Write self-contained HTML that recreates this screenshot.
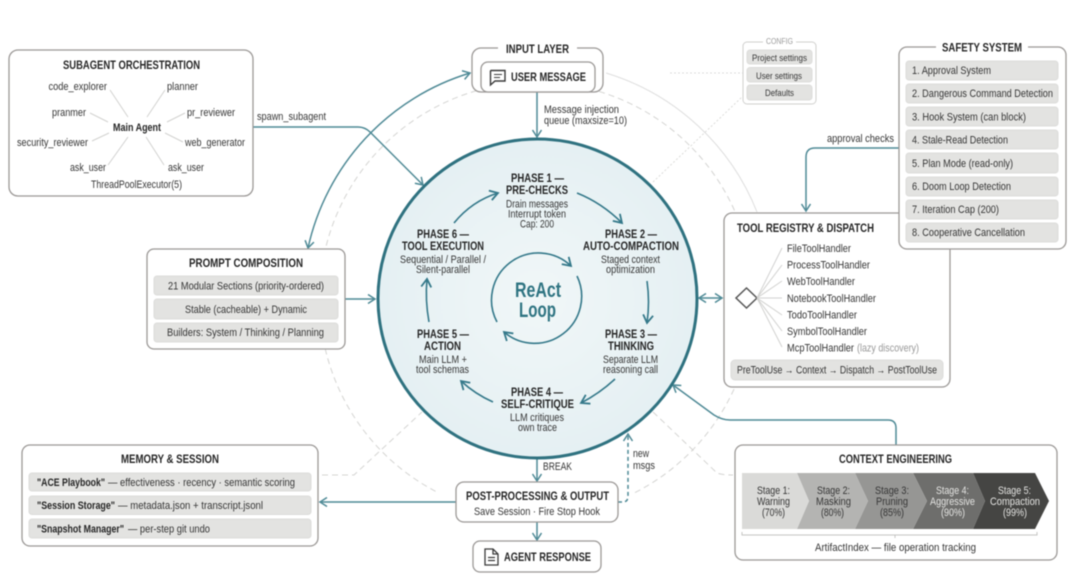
<!DOCTYPE html>
<html><head><meta charset="utf-8"><style>
html,body{margin:0;padding:0;background:#fff}
svg{display:block;filter:blur(.45px)}
text{font-family:"Liberation Sans",Arial,sans-serif;font-size:10.8px;fill:#363636}
.t{font-weight:700;font-size:11.8px;fill:#262626}
.b{font-weight:700;font-size:10.8px;fill:#262626}
.box{fill:#fff;stroke:#9b9896;stroke-width:1.3}
.pill{fill:#e3e3e1;stroke:#dcdcda;stroke-width:1}
.gd{fill:none;stroke:#d4d4d2;stroke-width:1;stroke-dasharray:6 4}
.c{fill:none;stroke:#4f8a96;stroke-width:1.5}
.p{fill:none;stroke:#35798a;stroke-width:1.6}
.l{stroke:#d2d2d0;stroke-width:1;fill:none}
</style></head><body>
<svg width="1080" height="586" viewBox="0 0 1080 586" xmlns="http://www.w3.org/2000/svg">
<defs>
<marker id="a" markerUnits="userSpaceOnUse" markerWidth="14" markerHeight="14" viewBox="-11 -7 14 14" refX="0" refY="0" orient="auto-start-reverse"><path d="M-7,-4.5L0,0L-7,4.5" fill="none" stroke="#4f8a96" stroke-width="1.5"/></marker>
<marker id="d" markerUnits="userSpaceOnUse" markerWidth="14" markerHeight="14" viewBox="-11 -7 14 14" refX="0" refY="0" orient="auto"><path d="M-8,-5L0,0L-8,5" fill="none" stroke="#35798a" stroke-width="1.8"/></marker>
<radialGradient id="g" cx="50%" cy="50%" r="50%"><stop offset="0" stop-color="#f1f7f8"/><stop offset="1" stop-color="#e5f0f3"/></radialGradient>
</defs>

<!-- faint rings -->
<path class="gd" d="M635 492.6A217 217 0 1 0 438 492.6"/>
<path d="M606 73A236 236 0 0 1 757 212" fill="none" stroke="#dedede" stroke-width="1"/>
<path class="gd" d="M653 412L717 473Q722 475 733 475"/>
<path class="gd" d="M322 475L354 475L422 412"/>
<path d="M653 182L742 97" fill="none" stroke="#dcdcda" stroke-width="1" stroke-dasharray="2 2"/>
<path d="M670 73L745 73" fill="none" stroke="#dcdcda" stroke-width="1" stroke-dasharray="2 2"/>

<!-- connectors -->
<path class="c" marker-start="url(#a)" marker-end="url(#a)" d="M308 248A236 236 0 0 1 470 73"/>
<path class="c" marker-end="url(#a)" d="M253 127L358 127Q365 127 370 132L423 185"/>
<path class="c" marker-end="url(#a)" d="M537 92L537 137"/>
<path class="c" marker-end="url(#a)" d="M345 299L375 299"/>
<path class="c" marker-start="url(#a)" marker-end="url(#a)" d="M699 298L722 298"/>
<path class="c" marker-end="url(#a)" d="M899 148L815 148Q806 148 806 157L806 211"/>
<path class="c" marker-end="url(#a)" d="M896 445L896 428Q896 420 888 420L730 420Q722 420 714 415L673 385"/>
<path class="c" marker-end="url(#a)" d="M537 458L537 481"/>
<path class="c" marker-end="url(#a)" d="M537 522L537 540"/>
<path class="c" marker-end="url(#a)" d="M456 502L320 502"/>
<path class="c" stroke-dasharray="4 3" marker-end="url(#a)" d="M618 502L623 502Q628 502 628 496L628 434"/>

<!-- main circle -->
<circle cx="537.5" cy="298.5" r="159.5" fill="url(#g)" stroke="#2f7280" stroke-width="3"/>
<path class="p" marker-end="url(#d)" d="M497 322A47 47 0 0 1 571 266"/>
<path class="p" marker-end="url(#d)" d="M577 276A47 47 0 0 1 504 332"/>
<path class="p" marker-end="url(#d)" d="M454 223Q472 201 498 193"/>
<path class="p" marker-end="url(#d)" d="M577 193Q602 203 622 223"/>
<path class="p" marker-end="url(#d)" d="M647 281Q650 302 647 323"/>
<path class="p" marker-end="url(#d)" d="M615 379Q600 393 581 403"/>
<path class="p" marker-end="url(#d)" d="M493 402Q475 394 461 381"/>
<path class="p" marker-end="url(#d)" d="M429 322Q425 300 427 279"/>

<text x="515" y="297" textLength="46" lengthAdjust="spacingAndGlyphs" style="font-size:21px;font-weight:700;fill:#2f7482">ReAct</text>
<text x="519" y="317" textLength="37" lengthAdjust="spacingAndGlyphs" style="font-size:21px;font-weight:700;fill:#2f7482">Loop</text>

<text class="t" x="511" y="182" textLength="53" lengthAdjust="spacingAndGlyphs">PHASE 1 —</text>
<text class="t" x="506" y="194" textLength="62" lengthAdjust="spacingAndGlyphs">PRE-CHECKS</text>
<text x="506" y="207.500" textLength="62" lengthAdjust="spacingAndGlyphs">Drain messages</text>
<text x="508" y="217.500" textLength="58" lengthAdjust="spacingAndGlyphs">Interrupt token</text>
<text x="520" y="227.500" textLength="34" lengthAdjust="spacingAndGlyphs">Cap: 200</text>

<text class="t" x="605" y="238" textLength="52" lengthAdjust="spacingAndGlyphs">PHASE 2 —</text>
<text class="t" x="583" y="250" textLength="96" lengthAdjust="spacingAndGlyphs">AUTO-COMPACTION</text>
<text x="601" y="263" textLength="59" lengthAdjust="spacingAndGlyphs">Staged context</text>
<text x="606" y="273" textLength="49" lengthAdjust="spacingAndGlyphs">optimization</text>

<text class="t" x="605" y="338" textLength="52" lengthAdjust="spacingAndGlyphs">PHASE 3 —</text>
<text class="t" x="608" y="350" textLength="46" lengthAdjust="spacingAndGlyphs">THINKING</text>
<text x="603" y="363" textLength="55" lengthAdjust="spacingAndGlyphs">Separate LLM</text>
<text x="603" y="373" textLength="55" lengthAdjust="spacingAndGlyphs">reasoning call</text>

<text class="t" x="511" y="396" textLength="52" lengthAdjust="spacingAndGlyphs">PHASE 4 —</text>
<text class="t" x="501" y="408" textLength="73" lengthAdjust="spacingAndGlyphs">SELF-CRITIQUE</text>
<text x="510" y="421" textLength="54" lengthAdjust="spacingAndGlyphs">LLM critiques</text>
<text x="518" y="431" textLength="39" lengthAdjust="spacingAndGlyphs">own trace</text>

<text class="t" x="417" y="338" textLength="52" lengthAdjust="spacingAndGlyphs">PHASE 5 —</text>
<text class="t" x="424" y="350" textLength="37" lengthAdjust="spacingAndGlyphs">ACTION</text>
<text x="419" y="363" textLength="48" lengthAdjust="spacingAndGlyphs">Main LLM +</text>
<text x="416" y="373" textLength="53" lengthAdjust="spacingAndGlyphs">tool schemas</text>

<text class="t" x="417" y="238" textLength="52" lengthAdjust="spacingAndGlyphs">PHASE 6 —</text>
<text class="t" x="402" y="250" textLength="82" lengthAdjust="spacingAndGlyphs">TOOL EXECUTION</text>
<text x="400" y="263" textLength="86" lengthAdjust="spacingAndGlyphs">Sequential / Parallel /</text>
<text x="416" y="273" textLength="54" lengthAdjust="spacingAndGlyphs">Silent-parallel</text>

<!-- Subagent -->
<rect class="box" x="9" y="50" width="244" height="146" rx="9"/>
<text class="t" x="63" y="69" textLength="137" lengthAdjust="spacingAndGlyphs">SUBAGENT ORCHESTRATION</text>
<g class="l"><path d="M110 90L128 117M165 90L147 117M90 113L108 122M185 113L167 122M92 141L109 133M165 133L183 142M108 165L128 137M146 137L164 165"/></g>
<text x="48.500" y="90" textLength="58.500" lengthAdjust="spacingAndGlyphs">code_explorer</text>
<text x="167" y="90" textLength="31" lengthAdjust="spacingAndGlyphs">planner</text>
<text x="52" y="116" textLength="34" lengthAdjust="spacingAndGlyphs">pranmer</text>
<text x="187" y="116" textLength="48" lengthAdjust="spacingAndGlyphs">pr_reviewer</text>
<text class="b" x="113" y="131" textLength="48" lengthAdjust="spacingAndGlyphs">Main Agent</text>
<text x="17" y="146" textLength="71" lengthAdjust="spacingAndGlyphs">security_reviewer</text>
<text x="185" y="146" textLength="60" lengthAdjust="spacingAndGlyphs">web_generator</text>
<text x="70" y="171" textLength="36" lengthAdjust="spacingAndGlyphs">ask_user</text>
<text x="168" y="171" textLength="36" lengthAdjust="spacingAndGlyphs">ask_user</text>
<text x="91" y="188" textLength="91" lengthAdjust="spacingAndGlyphs">ThreadPoolExecutor(5)</text>
<text x="257" y="120" textLength="69" lengthAdjust="spacingAndGlyphs">spawn_subagent</text>

<!-- Input layer -->
<rect class="box" x="472" y="48" width="131" height="44" rx="9"/>
<rect x="498" y="44" width="79" height="8" fill="#fff"/>
<text class="t" x="506" y="53" textLength="63" lengthAdjust="spacingAndGlyphs">INPUT LAYER</text>
<rect class="box" x="481" y="62" width="114" height="30" rx="7"/>
<path d="M491 70.500H505V81H495L490.500 85V71Z" fill="none" stroke="#3a3a3a" stroke-width="1.400"/>
<path d="M494 74.500H502M494 77.500H500" stroke="#3a3a3a" stroke-width="1"/>
<text class="t" x="511" y="81" textLength="75" lengthAdjust="spacingAndGlyphs">USER MESSAGE</text>
<text x="544" y="113" textLength="75" lengthAdjust="spacingAndGlyphs">Message injection</text>
<text x="544" y="124" textLength="83" lengthAdjust="spacingAndGlyphs">queue (maxsize=10)</text>

<!-- Config -->
<rect x="743" y="42" width="73" height="62" rx="4" fill="#fff" stroke="#d0d0ce" stroke-width="1"/>
<rect x="763" y="38" width="33" height="8" fill="#fff"/>
<text x="766" y="44" textLength="27" lengthAdjust="spacingAndGlyphs" style="font-size:8px;fill:#999">CONFIG</text>
<rect class="pill" x="747" y="50" width="65" height="14" rx="3"/>
<rect class="pill" x="747" y="67.500" width="65" height="14.500" rx="3"/>
<rect class="pill" x="747" y="85" width="65" height="15" rx="3"/>
<text x="752" y="61" textLength="55" lengthAdjust="spacingAndGlyphs" style="font-size:9.5px">Project settings</text>
<text x="756" y="79" textLength="46" lengthAdjust="spacingAndGlyphs" style="font-size:9.5px">User settings</text>
<text x="765" y="96" textLength="29" lengthAdjust="spacingAndGlyphs" style="font-size:9.5px">Defaults</text>

<!-- Tool registry -->
<rect class="box" x="724" y="213" width="226" height="174" rx="8"/>
<text class="t" x="737" y="232" textLength="137" lengthAdjust="spacingAndGlyphs">TOOL REGISTRY &amp; DISPATCH</text>
<path d="M746.500 288L757 298L746.500 308L736 298Z" fill="#fff" stroke="#555" stroke-width="1.500"/>
<g class="l"><path d="M757 298L782 248M757 298L782 265M757 298L782 281M757 298L782 298M757 298L782 315M757 298L782 331M757 298L782 347"/></g>
<text x="787" y="252" textLength="64" lengthAdjust="spacingAndGlyphs">FileToolHandler</text>
<text x="787" y="268.500" textLength="83" lengthAdjust="spacingAndGlyphs">ProcessToolHandler</text>
<text x="787" y="285" textLength="68" lengthAdjust="spacingAndGlyphs">WebToolHandler</text>
<text x="787" y="302" textLength="89" lengthAdjust="spacingAndGlyphs">NotebookToolHandler</text>
<text x="787" y="318.500" textLength="70" lengthAdjust="spacingAndGlyphs">TodoToolHandler</text>
<text x="787" y="335" textLength="80" lengthAdjust="spacingAndGlyphs">SymbolToolHandler</text>
<text x="787" y="351.500" textLength="67" lengthAdjust="spacingAndGlyphs">McpToolHandler</text>
<text x="857" y="351.500" textLength="62" lengthAdjust="spacingAndGlyphs" style="fill:#999">(lazy discovery)</text>
<rect class="pill" x="731" y="360" width="212" height="20" rx="4"/>
<text x="737" y="373.500" textLength="200" lengthAdjust="spacingAndGlyphs">PreToolUse → Context → Dispatch → PostToolUse</text>

<!-- Safety -->
<rect class="box" x="899" y="47" width="167" height="202" rx="8"/>
<rect x="936" y="42" width="92" height="10" fill="#fff"/>
<text class="t" x="942" y="51.500" textLength="80" lengthAdjust="spacingAndGlyphs">SAFETY SYSTEM</text>
<rect class="pill" x="906" y="61" width="152" height="19" rx="3"/>
<rect class="pill" x="906" y="84" width="152" height="19" rx="3"/>
<rect class="pill" x="906" y="107" width="152" height="19" rx="3"/>
<rect class="pill" x="906" y="130" width="152" height="19" rx="3"/>
<rect class="pill" x="906" y="153" width="152" height="20" rx="3"/>
<rect class="pill" x="906" y="177" width="152" height="19" rx="3"/>
<rect class="pill" x="906" y="200" width="152" height="19" rx="3"/>
<rect class="pill" x="906" y="223" width="152" height="19" rx="3"/>
<text x="912" y="74" textLength="79" lengthAdjust="spacingAndGlyphs">1. Approval System</text>
<text x="912" y="97" textLength="141" lengthAdjust="spacingAndGlyphs">2. Dangerous Command Detection</text>
<text x="912" y="120.500" textLength="114" lengthAdjust="spacingAndGlyphs">3. Hook System (can block)</text>
<text x="912" y="143.500" textLength="96" lengthAdjust="spacingAndGlyphs">4. Stale-Read Detection</text>
<text x="912" y="167" textLength="101" lengthAdjust="spacingAndGlyphs">5. Plan Mode (read-only)</text>
<text x="912" y="190" textLength="99" lengthAdjust="spacingAndGlyphs">6. Doom Loop Detection</text>
<text x="912" y="213" textLength="87" lengthAdjust="spacingAndGlyphs">7. Iteration Cap (200)</text>
<text x="912" y="236" textLength="113" lengthAdjust="spacingAndGlyphs">8. Cooperative Cancellation</text>
<text x="827" y="142" textLength="67" lengthAdjust="spacingAndGlyphs">approval checks</text>

<!-- Prompt -->
<rect class="box" x="147" y="249" width="198" height="100" rx="7"/>
<text class="t" x="189" y="267" textLength="114" lengthAdjust="spacingAndGlyphs">PROMPT COMPOSITION</text>
<rect class="pill" x="154" y="276" width="184" height="19" rx="3"/>
<rect class="pill" x="154" y="299" width="184" height="20" rx="3"/>
<rect class="pill" x="154" y="323" width="184" height="19" rx="3"/>
<text x="168" y="289.500" textLength="156" lengthAdjust="spacingAndGlyphs">21 Modular Sections (priority-ordered)</text>
<text x="185" y="313" textLength="122" lengthAdjust="spacingAndGlyphs">Stable (cacheable) + Dynamic</text>
<text x="167" y="336" textLength="157" lengthAdjust="spacingAndGlyphs">Builders: System / Thinking / Planning</text>

<!-- Memory -->
<rect class="box" x="22" y="445" width="296" height="101" rx="8"/>
<text class="t" x="121" y="463" textLength="98" lengthAdjust="spacingAndGlyphs">MEMORY &amp; SESSION</text>
<rect class="pill" x="29" y="473" width="282" height="18" rx="3"/>
<rect class="pill" x="29" y="496" width="282" height="18.500" rx="3"/>
<rect class="pill" x="29" y="519" width="282" height="19" rx="3"/>
<text class="b" x="37" y="486" textLength="68" lengthAdjust="spacingAndGlyphs">"ACE Playbook"</text>
<text x="108" y="486" textLength="187" lengthAdjust="spacingAndGlyphs">— effectiveness · recency · semantic scoring</text>
<text class="b" x="37" y="509" textLength="78" lengthAdjust="spacingAndGlyphs">"Session Storage"</text>
<text x="118" y="509" textLength="145" lengthAdjust="spacingAndGlyphs">— metadata.json + transcript.jsonl</text>
<text class="b" x="37" y="532.500" textLength="87" lengthAdjust="spacingAndGlyphs">"Snapshot Manager"</text>
<text x="128" y="532.500" textLength="82" lengthAdjust="spacingAndGlyphs">— per-step git undo</text>

<!-- Post processing -->
<text x="543" y="470" textLength="29" lengthAdjust="spacingAndGlyphs">BREAK</text>
<text x="633" y="457" textLength="16" lengthAdjust="spacingAndGlyphs">new</text>
<text x="633" y="469" textLength="22" lengthAdjust="spacingAndGlyphs">msgs</text>
<rect class="box" x="456" y="482" width="162" height="40" rx="8"/>
<text class="t" x="466" y="500" textLength="143" lengthAdjust="spacingAndGlyphs">POST-PROCESSING &amp; OUTPUT</text>
<text x="474" y="515" textLength="126" lengthAdjust="spacingAndGlyphs">Save Session · Fire Stop Hook</text>
<rect class="box" x="473" y="541" width="128" height="31" rx="7"/>
<path d="M485 549H493L498 554V565H485ZM493 549V554H498M488 557.500H495M488 560.500H495" fill="none" stroke="#3a3a3a" stroke-width="1.300"/>
<text class="t" x="504" y="561" textLength="87" lengthAdjust="spacingAndGlyphs">AGENT RESPONSE</text>

<!-- Context engineering -->
<rect class="box" x="735" y="445" width="322" height="115" rx="8"/>
<text class="t" x="839" y="463" textLength="113" lengthAdjust="spacingAndGlyphs">CONTEXT ENGINEERING</text>
<path d="M973 473H1035L1049 501L1035 529H973L985 501Z" fill="#454543"/>
<path d="M913 473H973L985 501L973 529H913L927 501Z" fill="#6e6e6c"/>
<path d="M855 473H913L927 501L913 529H855L868 501Z" fill="#969694"/>
<path d="M797 473H855L868 501L855 529H797L809 501Z" fill="#b4b4b2"/>
<path d="M742 473H797L809 501L797 529H742Z" fill="#dadad8"/>
<text x="757" y="494" textLength="33" lengthAdjust="spacingAndGlyphs">Stage 1:</text>
<text x="757" y="505" textLength="33" lengthAdjust="spacingAndGlyphs">Warning</text>
<text x="762" y="516" textLength="23" lengthAdjust="spacingAndGlyphs">(70%)</text>
<text x="817" y="494" textLength="33" lengthAdjust="spacingAndGlyphs">Stage 2:</text>
<text x="816" y="505" textLength="35" lengthAdjust="spacingAndGlyphs">Masking</text>
<text x="821" y="516" textLength="23" lengthAdjust="spacingAndGlyphs">(80%)</text>
<text x="875" y="494" textLength="34" lengthAdjust="spacingAndGlyphs">Stage 3:</text>
<text x="876" y="505" textLength="32" lengthAdjust="spacingAndGlyphs">Pruning</text>
<text x="880" y="516" textLength="24" lengthAdjust="spacingAndGlyphs">(85%)</text>
<text x="936" y="494" textLength="33" lengthAdjust="spacingAndGlyphs" style="fill:#e4e4e2">Stage 4:</text>
<text x="930" y="505" textLength="45" lengthAdjust="spacingAndGlyphs" style="fill:#e4e4e2">Aggressive</text>
<text x="941" y="516" textLength="24" lengthAdjust="spacingAndGlyphs" style="fill:#e4e4e2">(90%)</text>
<text x="998" y="494" textLength="33" lengthAdjust="spacingAndGlyphs" style="fill:#e4e4e2">Stage 5:</text>
<text x="990" y="505" textLength="50" lengthAdjust="spacingAndGlyphs" style="fill:#e4e4e2">Compaction</text>
<text x="1003" y="516" textLength="24" lengthAdjust="spacingAndGlyphs" style="fill:#e4e4e2">(99%)</text>
<path d="M742 532V535H1037V532M895 535V538" fill="none" stroke="#c4c4c2" stroke-width="1"/>
<text x="815" y="551" textLength="161" lengthAdjust="spacingAndGlyphs">ArtifactIndex — file operation tracking</text>
</svg>
</body></html>
